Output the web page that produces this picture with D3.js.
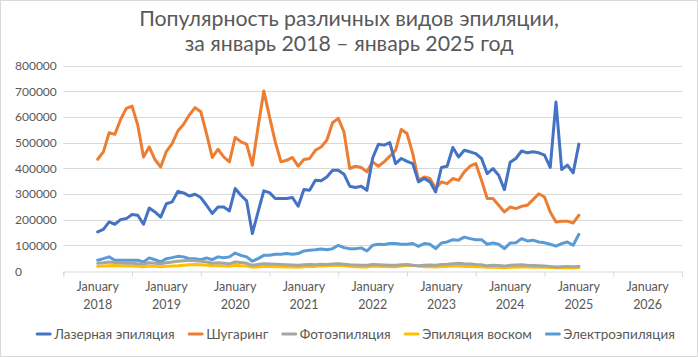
<!DOCTYPE html>
<html><head><meta charset="utf-8">
<script src="https://cdn.jsdelivr.net/npm/d3@7"></script>
<style>
html,body{margin:0;padding:0;background:#fff;}
svg{display:block;font-family:Lato,"Open Sans",sans-serif;}
</style></head>
<body><svg id="c" width="698" height="357"></svg>
<script>
const titleLines = ["Популярность различных видов эпиляции,", "за январь 2018 – январь 2025 год"];
const yearLabels = ["2018","2019","2020","2021","2022","2023","2024","2025","2026"];
const monthWord = "January";
const yTicks = [0,100000,200000,300000,400000,500000,600000,700000,800000];
const seriesNames = ["Лазерная эпиляция","Шугаринг","Фотоэпиляция","Эпиляция воском","Электроэпиляция"];
const seriesColors = ["#4472C4","#ED7D31","#A5A5A5","#FFC000","#5B9BD5"];
// monthly values (thousands), Jan 2018 .. Jan 2025
const laser = [152,162,191,182,200,204,220,217,182,245,230,210,
  262,269,310,304,292,299,286,256,224,249,249,234,
  321,295,273,146,230,312,305,282,282,282,286,252,
  317,314,353,351,366,392,392,377,330,325,330,314,
  440,493,490,500,418,438,427,418,347,360,347,308,
  403,408,481,444,470,464,457,438,379,399,373,317,
  423,438,467,460,464,460,451,403,658,395,412,382,494];
const sugaring = [435,464,538,532,590,633,642,568,444,483,434,405,
  466,496,545,571,607,636,620,535,442,474,444,425,
  520,503,494,412,560,701,600,503,425,431,442,408,
  434,438,470,483,509,577,594,541,399,408,403,386,
  425,408,425,447,470,551,535,457,353,366,360,321,
  347,340,360,353,386,408,418,353,282,282,256,230,
  249,243,252,256,278,301,288,230,191,194,194,187,217];
const photo = [30,32,35,33,32,30,30,28,27,32,30,28,
  32,35,38,40,42,40,38,35,30,32,30,28,
  35,33,30,22,25,28,27,26,25,24,23,22,
  24,25,24,26,25,27,28,26,24,23,22,22,
  25,24,23,22,22,24,25,22,20,22,23,22,
  25,26,28,30,28,27,25,24,20,22,21,19,
  22,23,24,22,21,20,19,18,16,17,18,17,18];
const wax = [18,19,20,21,20,19,19,18,17,19,18,17,
  18,19,20,22,24,25,24,22,20,20,19,18,
  22,20,19,15,16,18,18,17,17,16,16,15,
  17,18,18,19,20,21,22,20,18,17,16,16,
  19,18,18,17,17,19,21,22,19,17,17,16,
  18,18,19,19,18,18,17,17,15,15,14,13,
  15,15,16,16,15,15,15,14,13,13,13,12,14];
const electro = [42,48,55,42,42,42,42,42,35,51,44,35,
  48,52,57,55,48,48,44,51,44,55,52,55,
  70,61,55,38,48,61,61,65,65,68,65,68,
  78,81,83,86,83,87,100,91,87,87,90,78,
  100,104,103,107,107,104,104,107,96,107,104,87,
  109,113,122,120,132,126,122,122,104,109,104,87,
  109,110,126,117,120,113,110,104,97,107,113,100,143];

const svg = d3.select("#c");
const W = 698, H = 357;
const textColor = "#595959", gridColor = "#D9D9D9";

svg.append("rect").attr("x",0.5).attr("y",0.5).attr("width",W-1).attr("height",H-1)
  .attr("fill","#fff").attr("stroke","#D9D9D9");

const x = d3.scaleLinear().domain([-6, yearLabels.length*12 - 6]).range([63.3, 682]);
const y = d3.scaleLinear().domain([0, 800000]).range([271, 65.5]);

// title
const t = svg.append("text").attr("text-anchor","middle").attr("fill",textColor)
  .style("font-size","21.3px");
titleLines.forEach((l,i)=> t.append("tspan").attr("x",W/2).attr("y",26 + i*25).text(l));

// gridlines
svg.append("g").selectAll("line").data(yTicks.slice(1)).join("line")
  .attr("x1",x.range()[0]).attr("x2",x.range()[1])
  .attr("y1",d=>Math.round(y(d))+0.5).attr("y2",d=>Math.round(y(d))+0.5)
  .attr("stroke",gridColor).attr("stroke-width",1);

// y labels
svg.append("g").selectAll("text").data(yTicks).join("text")
  .attr("x",15).attr("y",d=>y(d)+4.5).attr("fill",textColor)
  .style("font-size","12px").text(d=>d3.format("d")(d));

// x axis with tick marks at year boundaries
const xAxis = d3.axisBottom(x)
  .tickValues(d3.range(-6, yearLabels.length*12 - 5, 12))
  .tickSize(5).tickFormat("");
const gx = svg.append("g").attr("transform",`translate(0,${Math.round(y(0))+0.5})`).call(xAxis);
gx.select(".domain").attr("stroke",gridColor);
gx.selectAll(".tick line").attr("stroke",gridColor);

// category labels
const lab = svg.append("g").selectAll("text").data(yearLabels).join("text")
  .attr("text-anchor","middle").attr("fill",textColor).style("font-size","12.5px");
lab.append("tspan").attr("x",(d,i)=>x(i*12)).attr("y",291).text(monthWord);
lab.append("tspan").attr("x",(d,i)=>x(i*12)).attr("y",309).text(d=>d);

// lines
const allSeries = [laser, sugaring, photo, wax, electro];
const line = d3.line().x((d,i)=>x(i)).y(d=>y(d*1000)).curve(d3.curveLinear);
const order = [4,3,2,1,0];
order.forEach(k=>{
  svg.append("path").datum(allSeries[k]).attr("d",line)
    .attr("fill","none").attr("stroke",seriesColors[k]).attr("stroke-width",3)
    .attr("stroke-linejoin","round").attr("stroke-linecap","round");
});

// legend
const lg = svg.append("g");
const items = lg.selectAll("g").data(seriesNames).join("g");
items.append("line").attr("x1",0).attr("x2",13).attr("y1",0).attr("y2",0)
  .attr("stroke",(d,i)=>seriesColors[i]).attr("stroke-width",3).attr("stroke-linecap","round");
items.append("text").attr("x",17).attr("y",5).attr("fill",textColor)
  .style("font-size","13.5px").text(d=>d);
const gap = 14.5;
const widths = [];
items.each(function(){ widths.push(17 + d3.select(this).select("text").node().getComputedTextLength()); });
const total = d3.sum(widths) + gap*(widths.length-1);
const start = 30 + (652 - total)/2;
items.attr("transform",(d,i)=>{ const tx = start + d3.sum(widths.slice(0,i)) + gap*i; return `translate(${tx},334)`; });
</script></body></html>
